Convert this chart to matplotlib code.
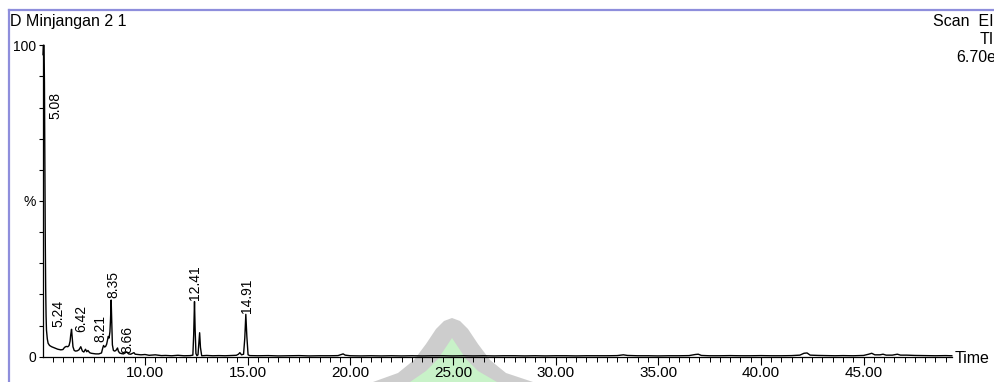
import numpy as np
import matplotlib
matplotlib.use("Agg")
from matplotlib import pyplot as plt
from matplotlib.patches import Polygon
from matplotlib.lines import Line2D

plt.rcParams['font.family'] = ['Liberation Sans', 'DejaVu Sans']

# TIC trace: retention time (min) and relative abundance (%)
rt_min = [5.03, 5.05, 5.08, 5.10, 5.12, 5.14, 5.16, 5.18, 5.20, 5.24, 5.28, 5.35, 5.45,
          5.60, 5.75, 5.90, 6.00, 6.08, 6.16, 6.24, 6.30, 6.35, 6.38, 6.42, 6.45, 6.49,
          6.55, 6.62, 6.70, 6.78, 6.87, 6.95, 7.02, 7.10, 7.16, 7.22, 7.30, 7.38, 7.48,
          7.60, 7.75, 7.88, 7.94, 7.98, 8.03, 8.08, 8.13, 8.17, 8.21, 8.25, 8.29, 8.32,
          8.35, 8.38, 8.41, 8.46, 8.52, 8.58, 8.62, 8.66, 8.70, 8.76, 8.85, 8.95, 9.05,
          9.12, 9.20, 9.30, 9.40, 9.46, 9.52, 9.65, 9.80, 10.0, 10.2, 10.5, 10.8, 11.0,
          11.3, 11.6, 11.9, 12.2, 12.33, 12.37, 12.41, 12.44, 12.48, 12.53, 12.58, 12.62,
          12.66, 12.70, 12.76, 13.0, 13.3, 13.6, 13.9, 14.2, 14.45, 14.55, 14.62, 14.70,
          14.80, 14.86, 14.91, 14.96, 15.02, 15.1, 15.5, 16.0, 16.5, 17.0, 17.5, 18.0,
          18.5, 19.0, 19.4, 19.55, 19.65, 19.75, 20.0, 20.5, 21.0, 21.5, 22.0, 22.5, 23.0,
          23.5, 24.0, 24.5, 25.0, 25.5, 26.0, 26.5, 27.0, 27.5, 28.0, 28.5, 29.0, 29.5,
          30.0, 30.5, 31.0, 31.5, 32.0, 32.5, 33.0, 33.3, 33.5, 34.0, 34.5, 35.0, 35.5,
          36.0, 36.5, 36.8, 36.95, 37.1, 37.5, 38.0, 38.5, 39.0, 39.5, 40.0, 40.5, 41.0,
          41.5, 41.9, 42.1, 42.25, 42.4, 42.8, 43.2, 43.6, 44.0, 44.5, 45.0, 45.25, 45.4,
          45.55, 45.8, 45.95, 46.1, 46.4, 46.65, 46.8, 47.1, 47.5, 48.0, 48.5, 49.0, 49.3]
tic_pct = [97.0, 100.0, 100.0, 88.0, 62.0, 38.0, 22.0, 13.0, 8.5, 5.7, 4.3, 3.6, 3.2,
           2.8, 2.4, 2.2, 2.3, 3.0, 3.3, 3.2, 3.6, 5.0, 7.0, 8.8, 6.5, 3.2,
           2.0, 1.8, 1.9, 2.2, 3.2, 1.8, 1.5, 2.4, 1.6, 2.0, 1.3, 1.1, 1.0,
           0.9, 0.9, 1.2, 2.8, 3.6, 3.1, 3.3, 4.0, 5.2, 6.5, 6.0, 8.0, 12.0,
           18.2, 11.0, 3.8, 2.0, 1.8, 2.0, 2.4, 2.8, 1.8, 1.2, 1.0, 0.9, 1.3,
           1.5, 0.9, 0.8, 1.1, 1.3, 0.8, 0.7, 0.6, 0.7, 0.45, 0.6, 0.35, 0.4,
           0.3, 0.45, 0.3, 0.35, 0.5, 7.0, 17.7, 9.0, 1.0, 0.3, 0.6, 4.0,
           7.7, 3.0, 0.3, 0.4, 0.3, 0.35, 0.3, 0.4, 0.45, 0.8, 1.3, 0.6,
           0.8, 6.0, 13.6, 6.5, 0.6, 0.35, 0.3, 0.35, 0.25, 0.3, 0.35, 0.25,
           0.3, 0.3, 0.35, 0.7, 0.9, 0.5, 0.3, 0.25, 0.3, 0.25, 0.3, 0.25, 0.3,
           0.25, 0.3, 0.3, 0.25, 0.3, 0.25, 0.3, 0.25, 0.3, 0.3, 0.25, 0.3, 0.25,
           0.3, 0.3, 0.25, 0.3, 0.3, 0.3, 0.35, 0.6, 0.4, 0.3, 0.3, 0.25, 0.3,
           0.3, 0.35, 0.7, 0.8, 0.4, 0.3, 0.3, 0.35, 0.3, 0.3, 0.35, 0.3, 0.3,
           0.35, 0.5, 1.1, 1.2, 0.5, 0.4, 0.35, 0.3, 0.35, 0.3, 0.4, 0.8, 1.1,
           0.6, 0.6, 0.8, 0.5, 0.5, 0.8, 0.5, 0.5, 0.4, 0.35, 0.3, 0.35, 0.3]

# labelled peaks
peak_rt = [5.08, 5.24, 6.42, 8.21, 8.35, 8.66, 12.41, 14.91]
peak_labels = ["5.08", "5.24", "6.42", "8.21", "8.35", "8.66", "12.41", "14.91"]
# label offset from the apex, in pixels (right, up)
label_off_px = [(11, -74), (11, 12), (10, -3), (-8, -6), (2, 2), (10, -5), (1, 2), (1, 1)]

x_major = [10, 15, 20, 25, 30, 35, 40, 45]

W, H = 995, 382
fig = plt.figure(figsize=(W / 100, H / 100), dpi=100)
ax = fig.add_axes([43 / W, 1 - 356.7 / H, 909 / W, 311.4 / H])
ax.patch.set_visible(False)


def px(x, y):
    return (x / W, 1 - y / H)


# watermark logo behind the plot
outer = [(373, 382), (398, 373), (414, 360), (426, 344), (436, 329), (444, 321), (452, 318),
         (460, 321), (468, 329), (478, 344), (490, 360), (506, 373), (533, 382)]
inner = [(410, 382), (426, 371), (438, 359), (446, 347), (452, 338), (458, 347), (466, 359),
         (478, 371), (497, 382)]
fig.patches.append(Polygon([px(*p) for p in outer], closed=True, transform=fig.transFigure,
                           facecolor='#cdcdcd', edgecolor='none', zorder=-2))
fig.patches.append(Polygon([px(*p) for p in inner], closed=True, transform=fig.transFigure,
                           facecolor='#c8f2c8', edgecolor='none', zorder=-1))

# frame lines at top and left
fig.add_artist(Line2D([9 / W, 1.0], [1 - 10 / H, 1 - 10 / H], transform=fig.transFigure,
                      color='#8e8edc', lw=1.6))
fig.add_artist(Line2D([9 / W, 9 / W], [0, 1 - 10 / H], transform=fig.transFigure,
                      color='#8e8edc', lw=1.6))

ax.plot(rt_min, tic_pct, color='black', lw=1.0, clip_on=False)

ax.set_xlim(5.03, 49.31)
ax.set_ylim(0, 100)
for s in ['top', 'right']:
    ax.spines[s].set_visible(False)
ax.spines['left'].set_linewidth(0.9)
ax.spines['bottom'].set_linewidth(0.9)

ax.set_xticks(x_major)
ax.set_xticklabels([f"{v:.2f}" for v in x_major])
ax.set_xticks(np.arange(5.5, 49.3, 0.5), minor=True)
ax.tick_params(axis='x', which='major', length=6, width=0.8, labelsize=11, pad=1)
ax.tick_params(axis='x', which='minor', length=3.5, width=0.7)

ax.set_yticks(range(0, 101, 10))
ax.set_yticklabels(['0', '', '', '', '', '%', '', '', '', '', '100'])
ax.tick_params(axis='y', length=3, width=0.8, labelsize=10, pad=2)

tic_at = np.interp(peak_rt, rt_min, tic_pct)
for rt, h, lab, (dx, dy) in zip(peak_rt, tic_at, peak_labels, label_off_px):
    ax.annotate(lab, xy=(rt, h), xytext=(dx * 0.72, dy * 0.72), textcoords='offset points',
                rotation=90, ha='center', va='bottom', fontsize=10)

fig.text(10 / W, 1 - 26 / H, "D Minjangan 2 1", fontsize=11.5, ha='left', va='baseline')
fig.text(1003 / W, 1 - 26 / H, "Scan  EI+", fontsize=11.5, ha='right', va='baseline')
fig.text(1005 / W, 1 - 43.5 / H, "TIC", fontsize=11.5, ha='right', va='baseline')
fig.text(1005 / W, 1 - 62 / H, "6.70e8", fontsize=11.5, ha='right', va='baseline')
fig.text(955 / W, 1 - 363 / H, "Time", fontsize=11.5, ha='left', va='baseline')

fig.savefig("out.png", dpi=100)
